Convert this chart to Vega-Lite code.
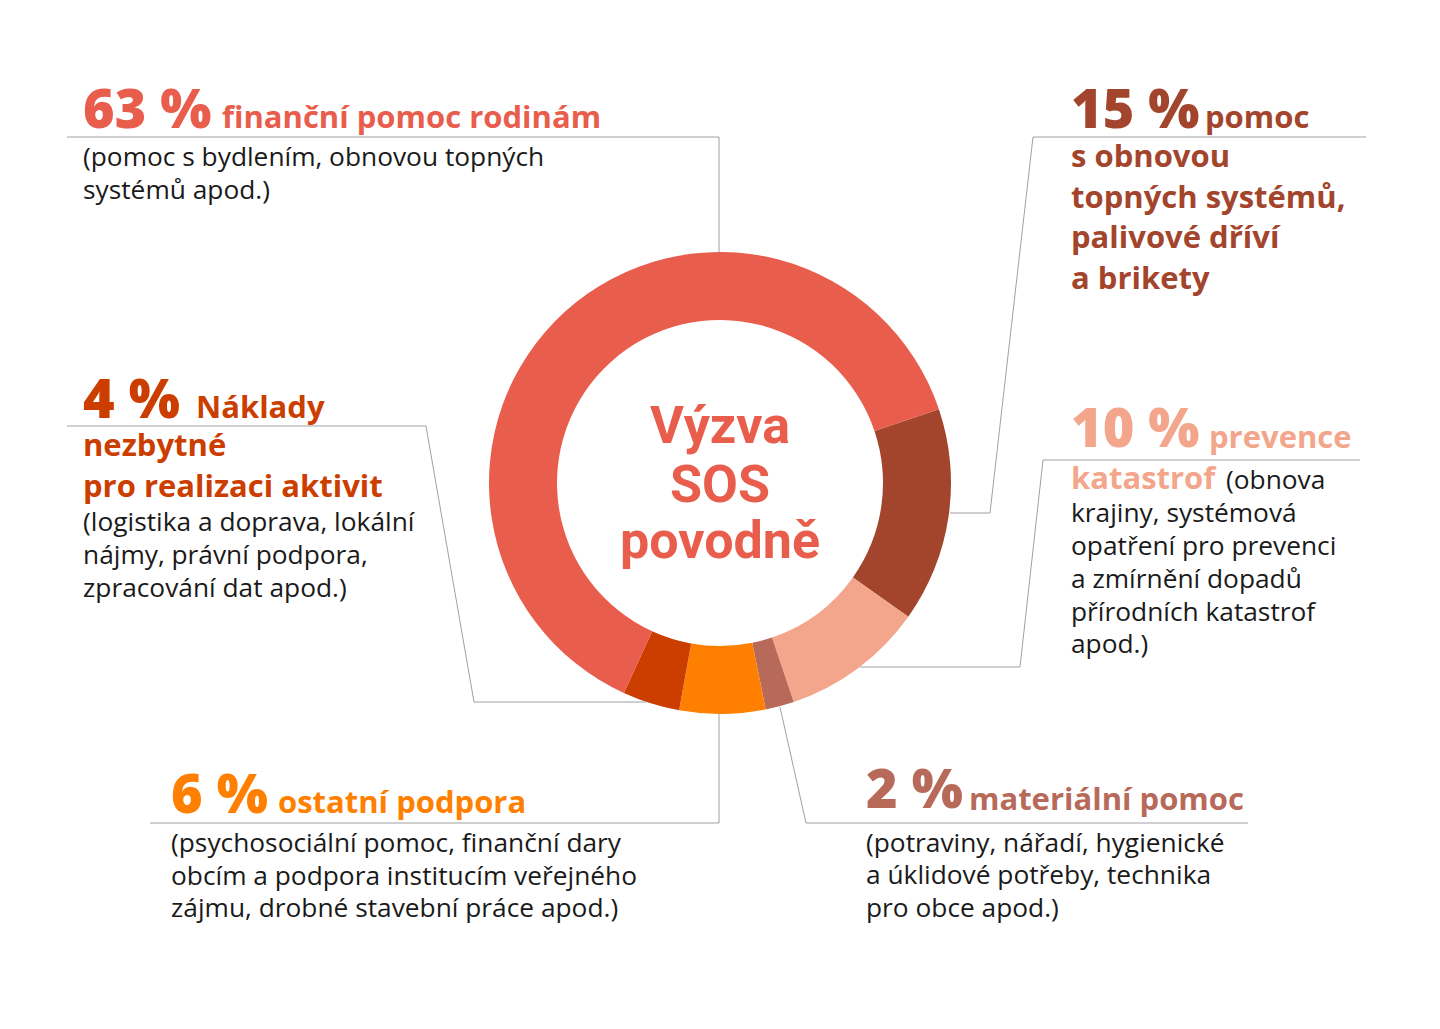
{
  "$schema": "https://vega.github.io/schema/vega-lite/v6.json",
  "width": 1440,
  "height": 966,
  "padding": 0,
  "autosize": "none",
  "background": "white",
  "config": {"view": {"stroke": null}},
  "datasets": {
    "slices": [
      {"cat": "15", "value": 15, "o": 1},
      {"cat": "10", "value": 10, "o": 2},
      {"cat": "2", "value": 2, "o": 3},
      {"cat": "6", "value": 6, "o": 4},
      {"cat": "4", "value": 4, "o": 5},
      {"cat": "63", "value": 63, "o": 6}
    ],
    "leaders": [
      {"g": "63", "i": 0, "x": 67, "y": 137}, {"g": "63", "i": 1, "x": 719, "y": 137}, {"g": "63", "i": 2, "x": 719, "y": 252},
      {"g": "15", "i": 0, "x": 1366, "y": 137}, {"g": "15", "i": 1, "x": 1033, "y": 137}, {"g": "15", "i": 2, "x": 990, "y": 513}, {"g": "15", "i": 3, "x": 950, "y": 513},
      {"g": "4", "i": 0, "x": 67, "y": 426}, {"g": "4", "i": 1, "x": 426, "y": 426}, {"g": "4", "i": 2, "x": 474, "y": 702}, {"g": "4", "i": 3, "x": 647, "y": 702},
      {"g": "10", "i": 0, "x": 1360, "y": 460}, {"g": "10", "i": 1, "x": 1043, "y": 460}, {"g": "10", "i": 2, "x": 1020, "y": 667}, {"g": "10", "i": 3, "x": 860, "y": 667},
      {"g": "6", "i": 0, "x": 150, "y": 823}, {"g": "6", "i": 1, "x": 719, "y": 823}, {"g": "6", "i": 2, "x": 719, "y": 714},
      {"g": "2", "i": 0, "x": 1248, "y": 823}, {"g": "2", "i": 1, "x": 806, "y": 823}, {"g": "2", "i": 2, "x": 780, "y": 707}
    ],
    "big": [
      {"t": "63 %", "x": 83, "y": 128, "cat": "63"},
      {"t": "15 %", "x": 1071, "y": 128, "cat": "15"},
      {"t": "4 %", "x": 83, "y": 418, "cat": "4"},
      {"t": "10 %", "x": 1071, "y": 447, "cat": "10"},
      {"t": "6 %", "x": 171, "y": 813, "cat": "6"},
      {"t": "2 %", "x": 866, "y": 808, "cat": "2"}
    ],
    "bold": [
      {"t": "finanční pomoc rodinám", "x": 222, "y": 128, "cat": "63"},
      {"t": "pomoc", "x": 1205, "y": 128, "cat": "15"},
      {"t": "s obnovou", "x": 1071, "y": 167, "cat": "15"},
      {"t": "topných systémů,", "x": 1071, "y": 208, "cat": "15"},
      {"t": "palivové dříví", "x": 1071, "y": 248, "cat": "15"},
      {"t": "a brikety", "x": 1071, "y": 289, "cat": "15"},
      {"t": "Náklady", "x": 196, "y": 418, "cat": "4"},
      {"t": "nezbytné", "x": 83, "y": 456, "cat": "4"},
      {"t": "pro realizaci aktivit", "x": 83, "y": 497, "cat": "4"},
      {"t": "prevence", "x": 1209, "y": 448, "cat": "10"},
      {"t": "katastrof", "x": 1071, "y": 489, "cat": "10"},
      {"t": "ostatní podpora", "x": 278, "y": 813, "cat": "6"},
      {"t": "materiální pomoc", "x": 969, "y": 810, "cat": "2"}
    ],
    "body": [
      {"t": "(pomoc s bydlením, obnovou topných", "x": 83, "y": 166},
      {"t": "systémů apod.)", "x": 83, "y": 199},
      {"t": "(logistika a doprava, lokální", "x": 83, "y": 531},
      {"t": "nájmy, právní podpora,", "x": 83, "y": 564},
      {"t": "zpracování dat apod.)", "x": 83, "y": 597},
      {"t": "(obnova", "x": 1226, "y": 489},
      {"t": "krajiny, systémová", "x": 1071, "y": 522},
      {"t": "opatření pro prevenci", "x": 1071, "y": 555},
      {"t": "a zmírnění dopadů", "x": 1071, "y": 588},
      {"t": "přírodních katastrof", "x": 1071, "y": 621},
      {"t": "apod.)", "x": 1071, "y": 653},
      {"t": "(psychosociální pomoc, finanční dary", "x": 171, "y": 852},
      {"t": "obcím a podpora institucím veřejného", "x": 171, "y": 885},
      {"t": "zájmu, drobné stavební práce  apod.)", "x": 171, "y": 917},
      {"t": "(potraviny, nářadí, hygienické", "x": 866, "y": 852},
      {"t": "a úklidové potřeby, technika", "x": 866, "y": 884},
      {"t": "pro obce apod.)", "x": 866, "y": 917}
    ],
    "center": [
      {"t": "Výzva", "x": 720, "y": 443},
      {"t": "SOS", "x": 720, "y": 502},
      {"t": "povodně", "x": 720, "y": 558}
    ]
  },
  "layer": [
    {
      "data": {"name": "slices"},
      "mark": {"type": "arc", "outerRadius": 231, "innerRadius": 163},
      "encoding": {
        "theta": {"field": "value", "type": "quantitative", "stack": true, "scale": {"range": [1.246, 7.5292]}},
        "order": {"field": "o", "type": "quantitative"},
        "color": {"field": "cat", "type": "nominal", "legend": null,
          "scale": {"domain": ["63", "15", "4", "10", "6", "2"], "range": ["#E85D4C", "#A3452C", "#CC3D00", "#F3A68B", "#FF7F00", "#B86A5A"]}}
      }
    },
    {
      "data": {"name": "leaders"},
      "mark": {"type": "line", "stroke": "#a0a0a0", "strokeWidth": 1},
      "encoding": {
        "x": {"field": "x", "type": "quantitative", "axis": null, "scale": {"domain": [0, 1440], "nice": false, "zero": false}},
        "y": {"field": "y", "type": "quantitative", "axis": null, "scale": {"domain": [0, 966], "nice": false, "zero": false, "reverse": true}},
        "detail": {"field": "g"},
        "order": {"field": "i", "type": "quantitative"}
      }
    },
    {
      "data": {"name": "big"},
      "mark": {"type": "text", "font": "Open Sans", "fontWeight": 800, "fontSize": 54, "align": "left", "baseline": "alphabetic"},
      "encoding": {
        "x": {"field": "x", "type": "quantitative", "axis": null, "scale": {"domain": [0, 1440], "nice": false, "zero": false}},
        "y": {"field": "y", "type": "quantitative", "axis": null, "scale": {"domain": [0, 966], "nice": false, "zero": false, "reverse": true}},
        "text": {"field": "t"},
        "color": {"field": "cat", "type": "nominal", "legend": null}
      }
    },
    {
      "data": {"name": "bold"},
      "mark": {"type": "text", "font": "Open Sans", "fontWeight": 700, "fontSize": 31, "align": "left", "baseline": "alphabetic"},
      "encoding": {
        "x": {"field": "x", "type": "quantitative", "axis": null, "scale": {"domain": [0, 1440], "nice": false, "zero": false}},
        "y": {"field": "y", "type": "quantitative", "axis": null, "scale": {"domain": [0, 966], "nice": false, "zero": false, "reverse": true}},
        "text": {"field": "t"},
        "color": {"field": "cat", "type": "nominal", "legend": null}
      }
    },
    {
      "data": {"name": "body"},
      "mark": {"type": "text", "font": "Open Sans", "fontWeight": 400, "fontSize": 26.3, "align": "left", "baseline": "alphabetic", "color": "#1a1a1a"},
      "encoding": {
        "x": {"field": "x", "type": "quantitative", "axis": null, "scale": {"domain": [0, 1440], "nice": false, "zero": false}},
        "y": {"field": "y", "type": "quantitative", "axis": null, "scale": {"domain": [0, 966], "nice": false, "zero": false, "reverse": true}},
        "text": {"field": "t"}
      }
    },
    {
      "data": {"name": "center"},
      "mark": {"type": "text", "font": "Roboto", "fontWeight": 700, "fontSize": 52, "align": "center", "baseline": "alphabetic", "color": "#E85D4C"},
      "encoding": {
        "x": {"field": "x", "type": "quantitative", "axis": null, "scale": {"domain": [0, 1440], "nice": false, "zero": false}},
        "y": {"field": "y", "type": "quantitative", "axis": null, "scale": {"domain": [0, 966], "nice": false, "zero": false, "reverse": true}},
        "text": {"field": "t"}
      }
    }
  ]
}
